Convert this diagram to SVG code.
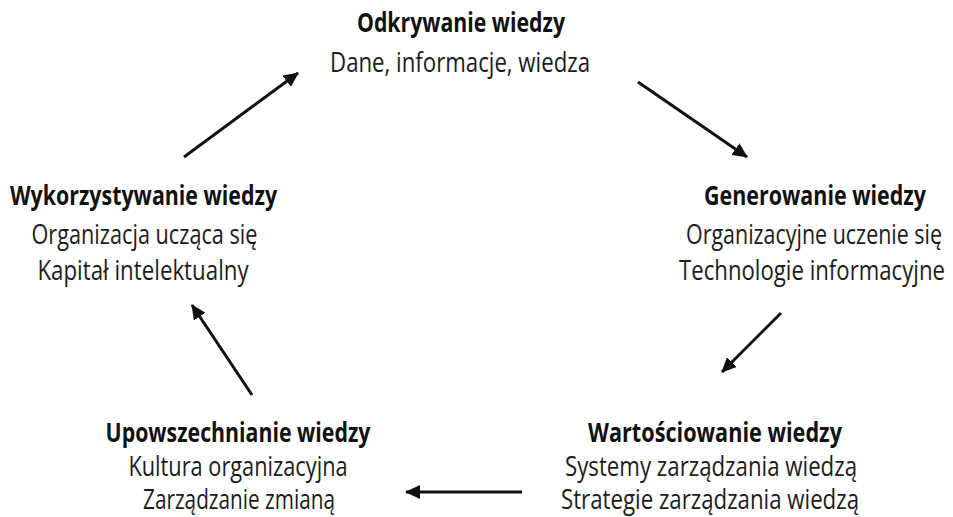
<svg xmlns="http://www.w3.org/2000/svg" width="953" height="517" viewBox="0 0 953 517">
<defs>
<marker id="ah" markerUnits="userSpaceOnUse" markerWidth="16" markerHeight="14" refX="14" refY="7" orient="auto">
<path d="M0,0 L15,7 L0,14 Z" fill="#111"/>
</marker>
<style>
text{font-family:"Open Sans","Noto Sans","Liberation Sans",sans-serif;font-size:27px;fill:#1c1c1c;text-anchor:middle}
.t{font-weight:bold;fill:#111}
.c{stroke:#111;stroke-width:3;fill:none;marker-end:url(#ah)}
</style>
</defs>
<rect width="953" height="517" fill="#fff"/>
<g id="n-odkrywanie">
<text class="t" transform="translate(461,32) scale(0.8,1)" textLength="260" lengthAdjust="spacingAndGlyphs">Odkrywanie wiedzy</text>
<text transform="translate(460,72) scale(0.8,1)" textLength="325" lengthAdjust="spacingAndGlyphs">Dane, informacje, wiedza</text>
</g>
<g id="n-generowanie">
<text class="t" transform="translate(815,205) scale(0.8,1)" textLength="277.5" lengthAdjust="spacingAndGlyphs">Generowanie wiedzy</text>
<text transform="translate(814,244) scale(0.8,1)" textLength="320" lengthAdjust="spacingAndGlyphs">Organizacyjne uczenie się</text>
<text transform="translate(812,280) scale(0.8,1)" textLength="332.5" lengthAdjust="spacingAndGlyphs">Technologie informacyjne</text>
</g>
<g id="n-wartosciowanie">
<text class="t" transform="translate(715,442) scale(0.8,1)" textLength="317.5" lengthAdjust="spacingAndGlyphs">Wartościowanie wiedzy</text>
<text transform="translate(711,476) scale(0.8,1)" textLength="365" lengthAdjust="spacingAndGlyphs">Systemy zarządzania wiedzą</text>
<text transform="translate(710,509) scale(0.8,1)" textLength="372.5" lengthAdjust="spacingAndGlyphs">Strategie zarządzania wiedzą</text>
</g>
<g id="n-upowszechnianie">
<text class="t" transform="translate(238,442) scale(0.8,1)" textLength="331" lengthAdjust="spacingAndGlyphs">Upowszechnianie wiedzy</text>
<text transform="translate(238,476) scale(0.8,1)" textLength="274" lengthAdjust="spacingAndGlyphs">Kultura organizacyjna</text>
<text transform="translate(239,509) scale(0.8,1)" textLength="240" lengthAdjust="spacingAndGlyphs">Zarządzanie zmianą</text>
</g>
<g id="n-wykorzystywanie">
<text class="t" transform="translate(143.5,205) scale(0.8,1)" textLength="334" lengthAdjust="spacingAndGlyphs">Wykorzystywanie wiedzy</text>
<text transform="translate(144.5,244) scale(0.8,1)" textLength="282.5" lengthAdjust="spacingAndGlyphs">Organizacja ucząca się</text>
<text transform="translate(143,280) scale(0.8,1)" textLength="264" lengthAdjust="spacingAndGlyphs">Kapitał intelektualny</text>
</g>
<g id="connectors">
<line class="c" x1="184" y1="157" x2="298" y2="73"/>
<line class="c" x1="638" y1="82" x2="747" y2="157"/>
<line class="c" x1="781" y1="313" x2="722" y2="372"/>
<line class="c" x1="522" y1="492" x2="406" y2="492"/>
<line class="c" x1="252" y1="395" x2="192" y2="305"/>
</g>
</svg>
